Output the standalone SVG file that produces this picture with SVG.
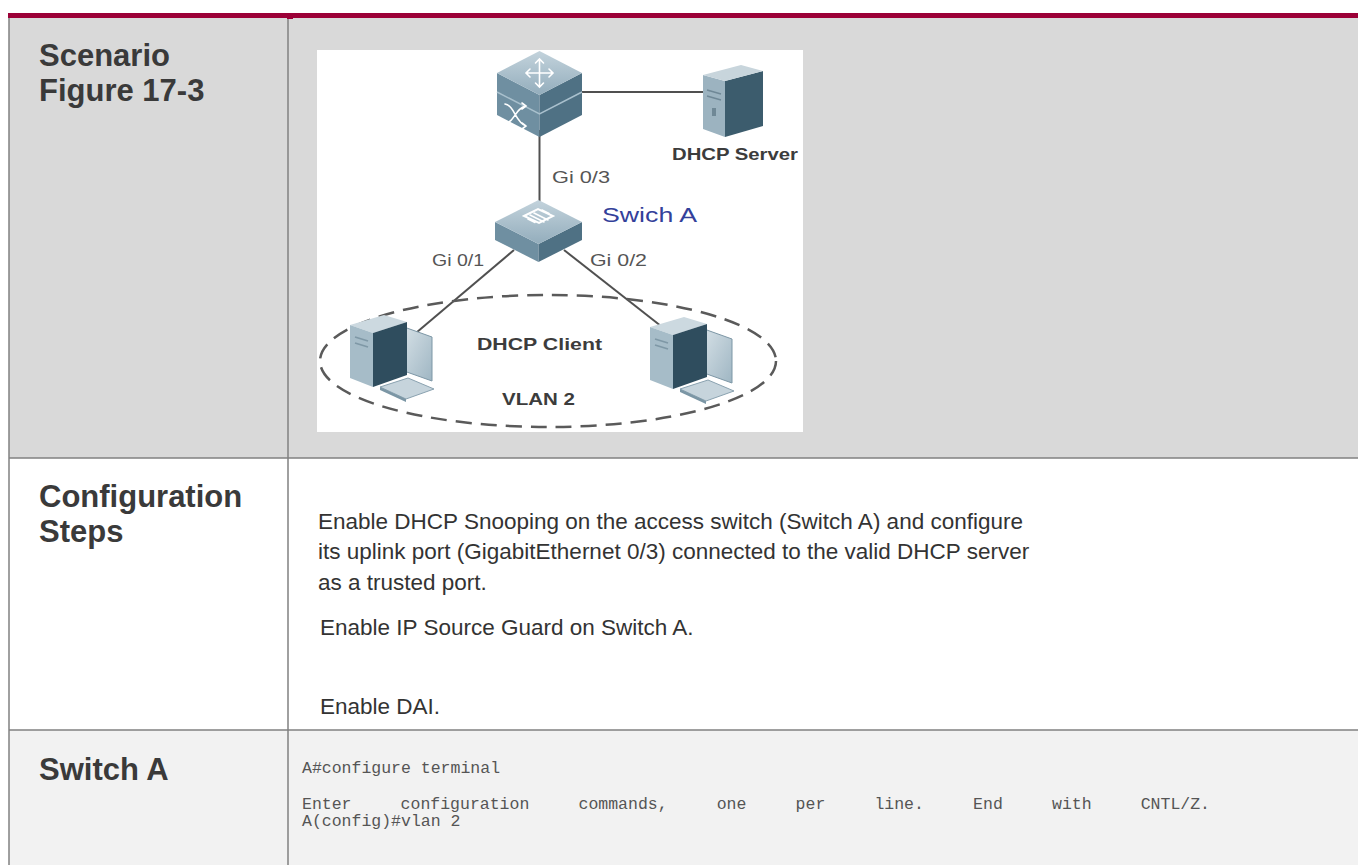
<svg xmlns="http://www.w3.org/2000/svg" width="1358" height="865" viewBox="0 0 1358 865">
  <style>
    .label { font-family: "Liberation Sans", Arial, sans-serif; font-weight: bold; font-size: 31px; fill: #3a3a3a; }
    .body { font-family: "Liberation Sans", Arial, sans-serif; font-size: 22.5px; fill: #333333; }
    .code { font-family: "Liberation Mono", "Courier New", monospace; font-size: 16.5px; fill: #555555; }
    .grid { stroke: #808080; stroke-width: 1.5; fill: none; }
    .port { font-family: "Liberation Sans", Arial, sans-serif; font-size: 16px; fill: #555555; }
    .tag { font-family: "Liberation Sans", Arial, sans-serif; font-weight: bold; font-size: 17px; fill: #3c3c3c; }
    .link { stroke: #505050; stroke-width: 2; fill: none; }
    .faceL { fill: #6f8fa1; }
    .faceR { fill: #4f7184; }
    .glyph { stroke: #ffffff; stroke-width: 1.6; fill: none; stroke-linecap: round; }
  </style>
  <defs>
    <linearGradient id="topFace" x1="0" y1="0" x2="0" y2="1">
      <stop offset="0" stop-color="#c3d3dc"/>
      <stop offset="1" stop-color="#93adbc"/>
    </linearGradient>
    <linearGradient id="panel" x1="0" y1="0" x2="1" y2="1">
      <stop offset="0" stop-color="#d5e0e6"/>
      <stop offset="1" stop-color="#9fb6c3"/>
    </linearGradient>
    <g id="pc">
      <!-- monitor panel behind the tower -->
      <polygon points="54,12 82,22 82,66 54,56" fill="url(#panel)" stroke="#7d97a6" stroke-width="1"/>
      <polygon points="50,14 54,12 54,56 50,58" fill="#5f7f91"/>
      <!-- tower -->
      <polygon points="0,10 34,0 57,7 23,18" fill="#ccd9e0"/>
      <polygon points="0,10 23,18 23,72 0,63" fill="#a6bcc8"/>
      <polygon points="23,18 57,7 57,60 23,72" fill="#2f4d5e"/>
      <line x1="5" y1="22" x2="18" y2="26" stroke="#7f98a6" stroke-width="1.5"/>
      <line x1="5" y1="28" x2="18" y2="32" stroke="#7f98a6" stroke-width="1.5"/>
      <!-- keyboard -->
      <polygon points="30,72 58,63 84,74 56,84" fill="#c6d4dc" stroke="#8aa2b0" stroke-width="1"/>
      <polygon points="30,72 56,84 56,87 30,75" fill="#7b96a5"/>
    </g>
  </defs>

  <!-- page background -->
  <rect x="0" y="0" width="1358" height="865" fill="#ffffff"/>

  <!-- table rows -->
  <rect x="9" y="18" width="1349" height="440" fill="#d9d9d9"/>
  <rect x="9" y="458" width="1349" height="272" fill="#ffffff"/>
  <rect x="9" y="730" width="1349" height="135" fill="#f2f2f2"/>

  <!-- table rules -->
  <g id="table-grid">
    <line class="grid" x1="9" y1="18" x2="9" y2="865"/>
    <line class="grid" x1="288" y1="18" x2="288" y2="865"/>
    <line class="grid" x1="9" y1="458" x2="1358" y2="458"/>
    <line class="grid" x1="9" y1="730" x2="1358" y2="730"/>
  </g>
  <rect x="8" y="13" width="1350" height="5" fill="#9b0037"/>
  <rect x="287" y="17" width="6" height="2" fill="#9b0037"/>

  <!-- row headers -->
  <g id="hdr-scenario">
    <text class="label" x="39" y="66">Scenario</text>
    <text class="label" x="39" y="101">Figure 17-3</text>
  </g>
  <g id="hdr-steps">
    <text class="label" x="39" y="507">Configuration</text>
    <text class="label" x="39" y="542">Steps</text>
  </g>
  <g id="hdr-switch">
    <text class="label" x="39" y="780">Switch A</text>
  </g>

  <!-- topology figure -->
  <rect x="317" y="50" width="486" height="382" fill="#ffffff"/>

  <g id="connectors">
    <line class="link" x1="539.5" y1="130" x2="539.5" y2="206"/>
    <line class="link" x1="580" y1="92" x2="706" y2="92"/>
    <line class="link" x1="514" y1="250" x2="410" y2="338" stroke-width="1.6"/>
    <line class="link" x1="564" y1="250" x2="666" y2="330" stroke-width="1.6"/>
  </g>

  <g id="vlan-2">
    <ellipse cx="548" cy="361" rx="228" ry="66" fill="none" stroke="#5a5a5a" stroke-width="2.5" stroke-dasharray="16 9"/>
  </g>

  <g id="core-switch">
    <polygon points="497,73 539.5,95 539.5,137 497,115" class="faceL"/>
    <polygon points="539.5,95 582,73 582,115 539.5,137" class="faceR"/>
    <polyline points="497,92 539.5,114 582,92" stroke="#a9c0cd" stroke-width="1.5" fill="none"/>
    <polygon points="497,73 539.5,51 582,73 539.5,95" fill="url(#topFace)"/>
    <!-- routing arrows -->
    <path class="glyph" d="M539.5,60 V86 M527,73 H552 M535.5,63 L539.5,59 L543.5,63 M535.5,83 L539.5,87 L543.5,83 M530,69 L526,73 L530,77 M549,69 L553,73 L549,77"/>
    <!-- switching arrows -->
    <path class="glyph" d="M505,104 C515,106 515,122 526,126 M505,124 C515,122 515,108 526,106 M522,103 L526,106 L522,109 M522,123 L526,126 L522,129"/>
  </g>

  <g id="dhcp-server">
    <polygon points="703,75 725,81 725,137 703,129" fill="#9cb3c0"/>
    <polygon points="725,81 763,71 763,126 725,137" fill="#3c5c6d"/>
    <polygon points="703,75 741,65 763,71 725,81" fill="#c8d5dc"/>
    <line x1="707" y1="90" x2="721" y2="94" stroke="#6f8896" stroke-width="1.5"/>
    <line x1="707" y1="96" x2="721" y2="100" stroke="#6f8896" stroke-width="1.5"/>
    <rect x="712" y="108" width="4" height="8" fill="#6f8896"/>
    <text class="tag" x="672" y="160" textLength="126" lengthAdjust="spacingAndGlyphs">DHCP Server</text>
  </g>

  <g id="switch-a">
    <polygon points="495,222 538.5,244 538.5,262 495,240" class="faceL"/>
    <polygon points="538.5,244 582,222 582,240 538.5,262" class="faceR"/>
    <polygon points="495,222 538.5,200 582,222 538.5,244" fill="url(#topFace)"/>
    <polygon points="524,216 538,209 553,216 539,223" fill="none" stroke="#ffffff" stroke-width="2"/>
    <path class="glyph" d="M530,215 L544,222 M534,213 L548,220 M528,219 L535,222.5 M542,210 L549,213.5"/>
    <text x="602" y="222" font-family="Liberation Sans, Arial, sans-serif" font-size="21" fill="#33409a" textLength="95" lengthAdjust="spacingAndGlyphs">Swich A</text>
  </g>

  <g id="port-labels">
    <text class="port" x="552" y="183" textLength="58" lengthAdjust="spacingAndGlyphs">Gi 0/3</text>
    <text class="port" x="432" y="266" textLength="52" lengthAdjust="spacingAndGlyphs">Gi 0/1</text>
    <text class="port" x="590" y="266" textLength="57" lengthAdjust="spacingAndGlyphs">Gi 0/2</text>
  </g>

  <g id="client-left">
    <use href="#pc" x="350" y="315"/>
  </g>
  <g id="client-right">
    <use href="#pc" x="650" y="317"/>
  </g>

  <g id="client-labels">
    <text class="tag" x="477" y="350" textLength="125" lengthAdjust="spacingAndGlyphs">DHCP Client</text>
    <text class="tag" x="502" y="405" textLength="73" lengthAdjust="spacingAndGlyphs">VLAN 2</text>
  </g>

  <!-- configuration steps -->
  <g id="steps-text">
    <text class="body" x="318" y="529">Enable DHCP Snooping on the access switch (Switch A) and configure</text>
    <text class="body" x="318" y="559">its uplink port (GigabitEthernet 0/3) connected to the valid DHCP server</text>
    <text class="body" x="318" y="590">as a trusted port.</text>
    <text class="body" x="320" y="635">Enable IP Source Guard on Switch A.</text>
    <text class="body" x="320" y="714">Enable DAI.</text>
  </g>

  <!-- CLI listing -->
  <g id="cli-text">
    <text class="code" x="302" y="773">A#configure terminal</text>
    <text class="code" y="809"><tspan x="302">Enter</tspan><tspan x="400.6">configuration</tspan><tspan x="578.5">commands,</tspan><tspan x="716.7">one</tspan><tspan x="795.6">per</tspan><tspan x="874.4">line.</tspan><tspan x="973.1">End</tspan><tspan x="1052">with</tspan><tspan x="1140.7">CNTL/Z.</tspan></text>
    <text class="code" x="302" y="826">A(config)#vlan 2</text>
  </g>
</svg>
